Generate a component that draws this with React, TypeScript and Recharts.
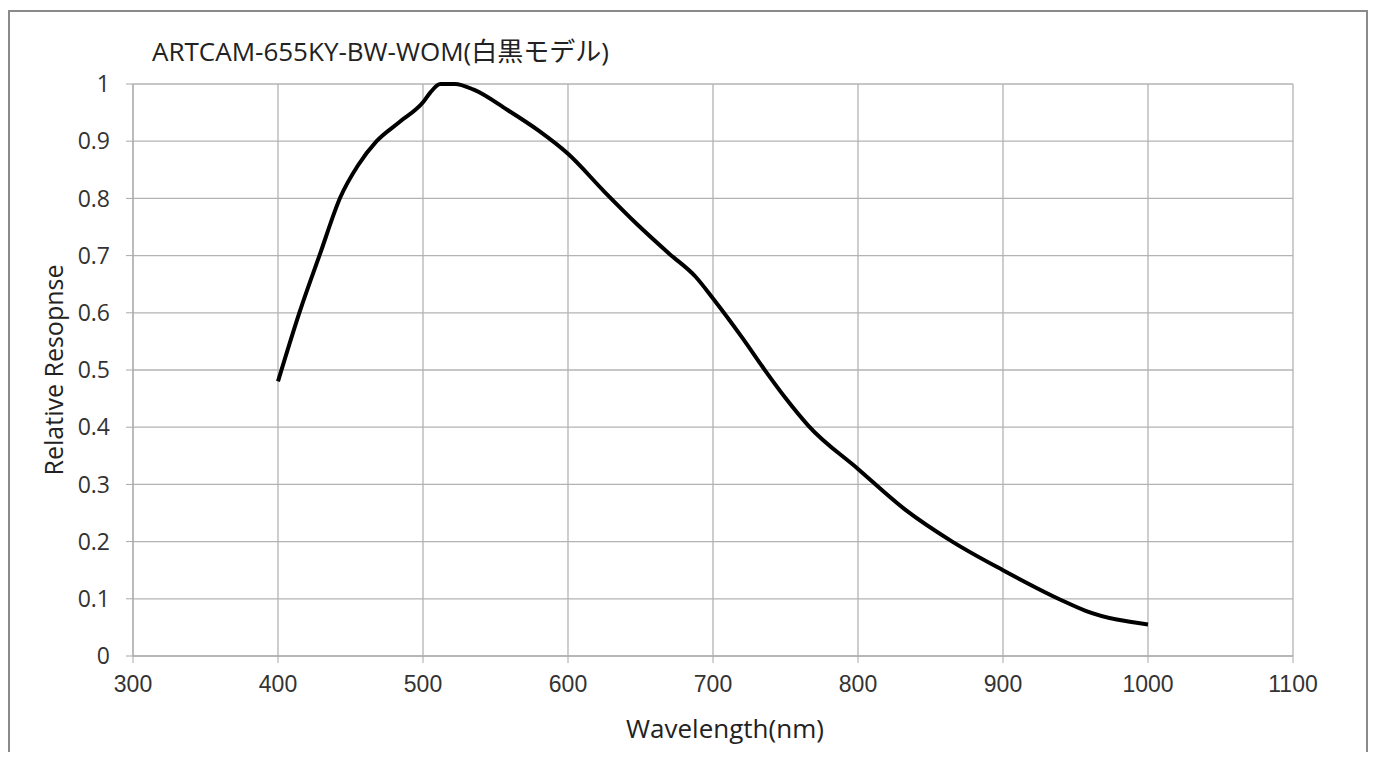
import * as React from "react"
import { LineChart, Line, XAxis, YAxis, CartesianGrid, Label } from "recharts"

// wavelength (nm) and relative response
const wavelengths = [400, 415, 429, 443, 455, 468, 484, 500, 505, 512, 522, 535, 558, 580, 600, 625, 648, 670, 688, 700, 720, 736, 750, 766, 800, 833, 865, 900, 940, 957, 1000]
const response = [0.48, 0.602, 0.703, 0.802, 0.857, 0.9, 0.934, 0.968, 0.985, 1.0, 1.0, 0.99, 0.955, 0.918, 0.878, 0.812, 0.754, 0.703, 0.663, 0.625, 0.557, 0.499, 0.451, 0.402, 0.327, 0.255, 0.2, 0.15, 0.098, 0.079, 0.055]

const xTicks = [300, 400, 500, 600, 700, 800, 900, 1000, 1100]
const yTicks = [0, 0.1, 0.2, 0.3, 0.4, 0.5, 0.6, 0.7, 0.8, 0.9, 1]

const title = "ARTCAM-655KY-BW-WOM(白黒モデル)"

const data = wavelengths.map((w, i) => ({ wavelength: w, value: response[i] }))

const font = "'Open Sans', 'Noto Sans CJK JP', sans-serif"

export default function App() {
  return (
    <div
      style={{
        position: "relative",
        top: 2,
        width: 1356,
        height: 740,
        border: "2px solid #8a8a8a",
        background: "#fff",
        fontFamily: font,
      }}
    >
      <div style={{ position: "absolute", left: 142, top: 19, fontSize: 26, color: "#222", whiteSpace: "nowrap" }}>{title}</div>
      <LineChart width={1356} height={740} data={data} margin={{ top: 72, right: 73, left: 0, bottom: 36 }}>
        <CartesianGrid stroke="#b3b3b3" strokeWidth={1.3} />
        <XAxis
          dataKey="wavelength"
          type="number"
          domain={[300, 1100]}
          ticks={xTicks}
          height={60}
          stroke="#a8a8a8"
          tickSize={7}
          tickMargin={13}
          tick={{ fill: "#333", fontSize: 23, fontFamily: "'Liberation Sans Narrow', 'Liberation Sans', sans-serif" }}
        >
          <Label value="Wavelength(nm)" position="bottom" offset={4} dx={12} style={{ fill: "#222", fontSize: 26, fontFamily: font }} />
        </XAxis>
        <YAxis
          type="number"
          domain={[0, 1]}
          ticks={yTicks}
          width={123}
          stroke="#a8a8a8"
          tickSize={7}
          tickMargin={16}
          tick={{ fill: "#333", fontSize: 23, fontFamily: font }}
        >
          <Label
            value="Relative  Resopnse"
            angle={-90}
            position="insideLeft"
            offset={44}
            style={{ textAnchor: "middle", fill: "#222", fontSize: 25, fontFamily: font, whiteSpace: "pre" }}
          />
        </YAxis>
        <Line
          dataKey="value"
          type="monotone"
          stroke="#000"
          strokeWidth={4}
          dot={false}
          isAnimationActive={false}
        />
      </LineChart>
    </div>
  )
}
